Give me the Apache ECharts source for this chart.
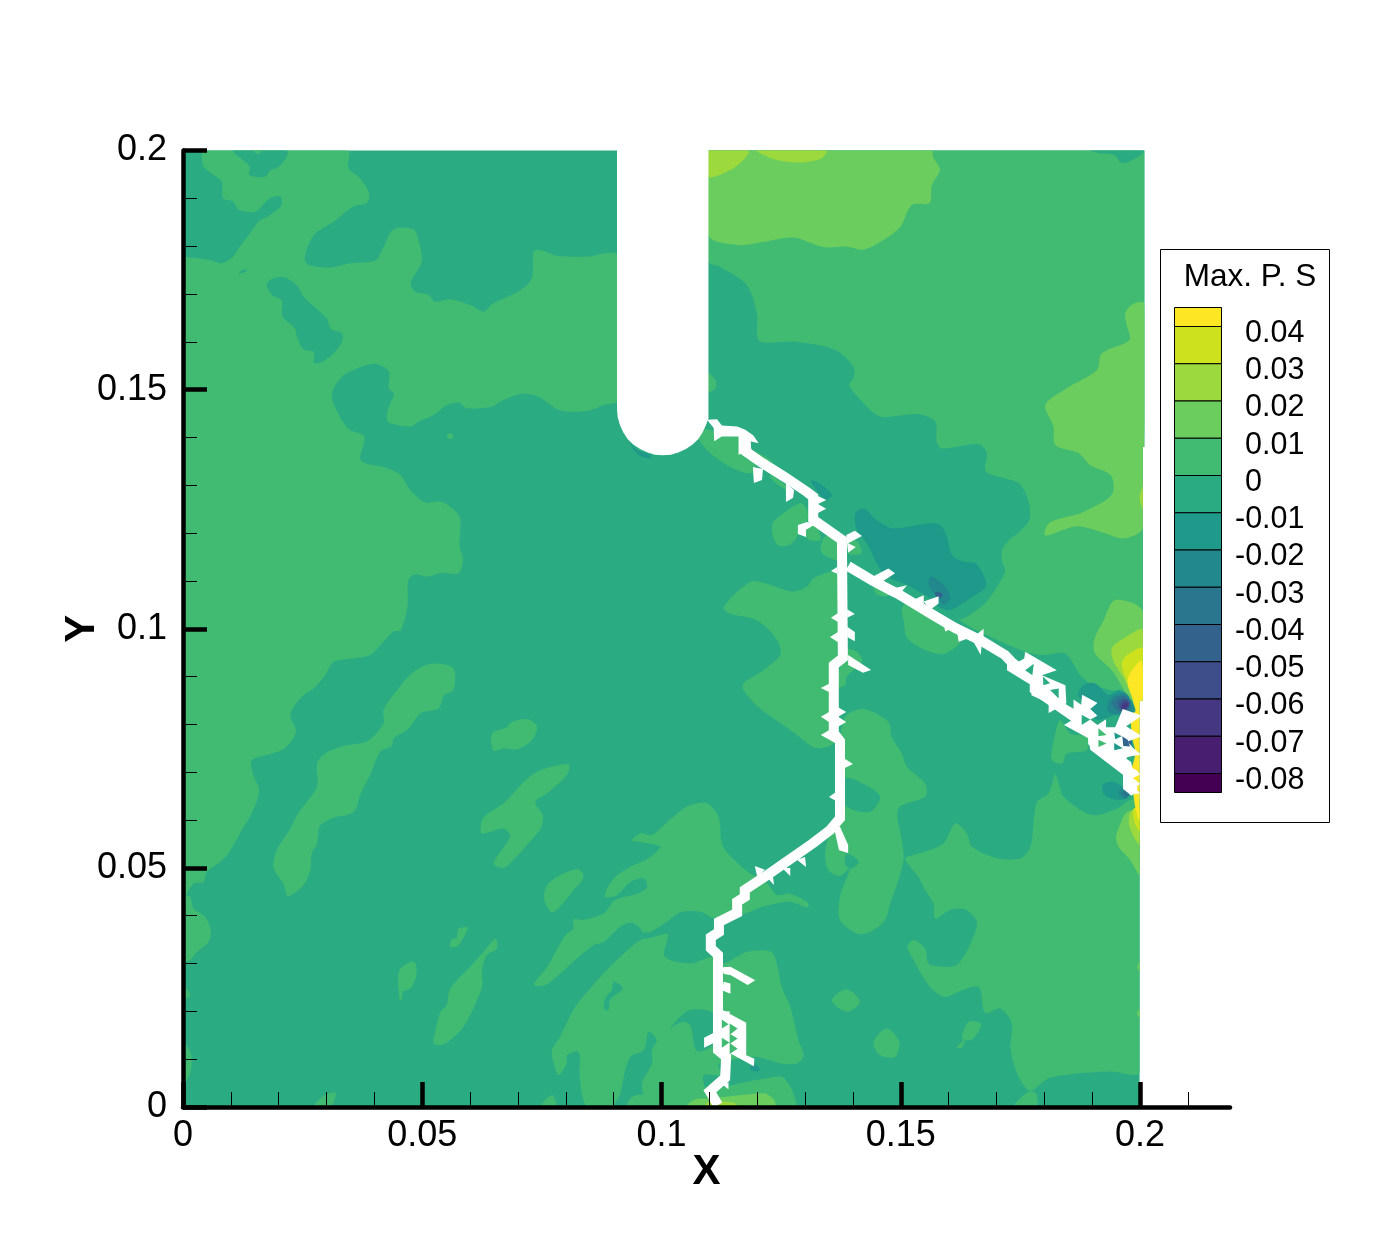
<!DOCTYPE html>
<html>
<head>
<meta charset="utf-8">
<title>Max. P. S</title>
<style>html,body{margin:0;padding:0;background:#fff}#chart{width:1400px;height:1245px}</style>
<script src="https://cdn.jsdelivr.net/npm/echarts@6/dist/echarts.min.js"></script>
</head>
<body>
<div id="chart"></div>
<script>
// tick values
var xMajorTicks = [0, 0.05, 0.1, 0.15, 0.2];
var xMinorTicks = [0.01, 0.02, 0.03, 0.04, 0.06, 0.07, 0.08, 0.09, 0.11, 0.12, 0.13, 0.14, 0.16, 0.17, 0.18, 0.19, 0.21];
var yMajorTicks = [0, 0.05, 0.1, 0.15, 0.2];
var yMinorTicks = [0.01, 0.02, 0.03, 0.04, 0.06, 0.07, 0.08, 0.09, 0.11, 0.12, 0.13, 0.14, 0.16, 0.17, 0.18, 0.19];

// contour legend, top band first
var legendLevels = ['0.04', '0.03', '0.02', '0.01', '0', '-0.01', '-0.02', '-0.03', '-0.04', '-0.05', '-0.06', '-0.07', '-0.08'];
var bandColors = ['#fde725', '#cde11d', '#9bd93c', '#6bcd5d', '#41bb72', '#2aab82', '#1f9a8a', '#23888e', '#2a768e', '#33638d', '#3d4e8a', '#453781', '#481f70', '#440154'];

// contour outlines: flat x,y lists, in thousandths of X and Y
var UNIT = 0.001;

var plate = [0,0, 199.9,0, 199.9,85, 200.6,85, 200.6,138, 200.9,138, 200.9,200, 0,200];

// band 0 .. 0.01
var westSide = [0,200, 34.4,200, 34.6,196.3, 37,194.2, 38.9,191, 38.4,189, 35.6,188.3, 31.5,185.1, 27.3,182.3, 25.4,177.5, 26.2,176.1, 30.8,175.5, 35,176.4, 40.2,177, 41.6,179.2, 44,183.5, 48.2,183.5, 49.2,181.3, 49.9,176.8, 47.6,172.4, 48.5,170.5, 51.3,169.8, 52.7,168.4, 55.8,168.9, 60,167.7, 62.8,166.3, 64.6,167.9, 70.5,170.8, 72.9,173.3, 73.3,178.9, 75,179.1, 78.1,178, 84.4,177.8, 90.8,178, 90.8,147.8, 87.9,146.8, 85.1,145.7, 80.2,145.4, 77.8,146.1, 74.3,148.5, 70.5,149.1, 66.3,147.5, 64.6,146.4, 59.3,146.1, 57.6,147.3, 54.8,146.6, 52.4,144.7, 49.2,143.3, 47.5,142.3, 43,143.1, 42.6,144.7, 43.3,147.1, 44.1,149.1, 43,150.3, 43,153.8, 40.2,155.4, 37,154.7, 33.2,152.7, 31.1,148.9, 32.8,144.3, 34.9,141.6, 37.9,140.2, 37,135.6, 38.1,134.6, 41.9,133.8, 45.4,132.2, 47.5,129, 50.6,126.4, 53.8,126.6, 56.2,125.2, 57.9,123.1, 57.8,117.2, 58.5,114.7, 57.6,111.6, 54.1,111.7, 51,110.9, 48.5,111.4, 47.1,110.2, 46.9,104.6, 45.5,99.7, 44,99.4, 41.9,97.3, 39.1,94.5, 35.6,93.8, 31.5,93.1, 29.7,90.3, 27.3,87.5, 24.8,85.8, 22.4,82, 23.6,78.5, 21.3,75, 18.2,73.8, 14.4,72.5, 14.7,69.4, 15.9,66.3, 14.7,62.1, 12.3,57.9, 9.5,53, 7.8,51.3, 5,49.2, 4.3,47.1, 2.2,46.7, 0.4,43.9, 0,43.5];
var westHoleA = [0,200, 3.6,200, 4.3,196.6, 6.4,194.9, 8.1,193.5, 8.4,190, 10.5,189.3, 11.6,187.6, 15.1,187.2, 18.2,190, 20.3,190.4, 20.6,188.6, 18.2,186.5, 15.8,185.1, 14,182.7, 11.6,179.5, 10.5,177.8, 8.1,176.4, 5.7,177.1, 0.4,177.8, 0,177.8];
var westHoleB = [10.5,200, 14,196.6, 13.8,194.9, 17.2,194.5, 18.2,195.8, 20,196.6, 21.7,198.7, 21.7,200];
var westHoleC = [17.5,172.1, 19.2,173.4, 21.7,173.3, 24.1,171.5, 25.2,169.4, 30,164.9, 30.9,162.7, 33.2,161.8, 33.2,160, 31.5,157.6, 28.7,155.6, 27.4,155.6, 27.3,157.9, 25.2,158.4, 23.8,161.1, 23.4,162.8, 20.8,165.3, 20.6,168.7, 18.6,169.8];
var westHoleD = [11.6,174.5, 13.3,175.2, 13.2,174.7, 11.9,174.3];
var westDent = [14.6,200, 15.6,199.3, 16.7,200];
var dotMid = [55.3,140.7, 56.3,140.7, 56.3,139.8, 55.3,139.8];
var lobeA = [0,44.3, 0.4,44.3, 1.5,44, 2.2,41.5, 4.6,39.8, 5.8,37, 5.3,34.5, 2.9,32.4, 1.5,30.7, 0.4,30.4, 0,30.4];
var lobeB = [0,25.2, 0.4,25.2, 1.5,23.4, 0.8,22.7, 0,22.7];
var lobeC = [0,13.6, 0.4,13.6, 1.8,10.5, 1.5,7, 0.4,4.9, 0,4.9];
var isle1 = [18.9,50.2, 19.6,53.7, 22.4,58.2, 24.1,61.4, 28,67, 28,71.8, 29.7,73.9, 33.5,75.5, 38.4,76.4, 41.9,80.2, 41.9,83, 45,87.5, 48.2,91, 52,92.7, 56.5,91.7, 56.5,87.2, 54.6,86.1, 53.4,83.3, 49.6,82.3, 47.1,79.1, 44,77.1, 43.6,75.5, 41.2,74.3, 39.1,69.4, 37,65.2, 36,62.1, 34.2,61, 32.1,60.7, 30,59.8, 28.5,58.6, 28,55.1, 26.9,53, 26.6,49.5, 25.2,46.4, 22,44.1, 21,46.7, 20,48.1];
var isle2 = [64.6,78.1, 67.7,79.4, 68.7,80.5, 72.2,81.1, 74,79.5, 72.9,76.7, 69.8,74.8, 67,75, 64.9,74.5];
var isle3 = [62.3,59.3, 63.2,61, 67,63.5, 73.3,69.7, 80.6,71.7, 80.2,69.4, 76.1,65.6, 73.6,63.8, 75.2,61, 74.7,58.2, 71.2,54, 69.4,52, 67,50, 64.9,50.9, 68.4,56.6, 67,58.2, 62.5,57.2];
var isle4 = [75.5,43.3, 76.1,46.4, 79.5,48.8, 82.7,49.7, 83.7,48, 81.6,45.3, 78.8,41.9, 77.1,40.7];
var isle5 = [57.6,37.3, 59.5,37.5, 57.9,34.2, 57.2,33.5, 55.8,33.6, 56.2,35, 57.2,35.4];
var isle6 = [65.3,35.2, 65.6,33.1, 63.5,31.8, 62.5,28.6, 62.5,25.1, 58.6,16.8, 54.5,13.1, 52.4,13.3, 52.7,15.7, 53.8,19.9, 55.1,21.3, 55.7,24.4, 57.6,26.9, 60,29.3, 62.5,32.1];
var isle7 = [45.2,28.5, 47.8,30.4, 48.7,29.7, 48.7,27.2, 47.5,24.8, 45.9,24.1, 45.7,22.3, 45.2,22.7];
var isle8 = [27.3,0, 29.7,2.5, 31.9,3, 30.8,0];
var isle9 = [74.7,0, 77.1,2.5, 78,0];
var band = [73.3,25.5, 76.1,29.3, 79.9,35.9, 81.6,37.3, 81.6,39.2, 83.7,39.1, 87.9,40.5, 90.3,43.3, 94.9,44.6, 97,46, 96.3,47.8, 93.5,47.1, 90.7,44.3, 88.3,43.9, 88.3,45, 90.3,48.1, 93.5,50.2, 97.7,52.3, 99.7,54.4, 97.7,55, 94.9,55.5, 93.8,55.8, 95.6,57.2, 97.7,56.8, 99.7,58.2, 102.5,60.7, 105.3,62.8, 109.4,63.5, 111.9,60.7, 112.9,54.4, 118.5,48.8, 121.3,47.8, 122.7,46, 124.1,44.3, 126.9,44.6, 130.7,42.6, 130.4,41.7, 126.9,42.9, 121.3,41.9, 116.4,40.1, 114.7,40.5, 111.2,39.4, 108.1,40.8, 104.2,40.8, 101.1,38.7, 97.6,36.6, 95.9,36.6, 95.6,37.3, 93.8,38.5, 91.4,37.7, 87.9,34.5, 85.8,33.8, 81.6,30.4, 78.5,27.6, 75.7,25.5];
var lower = [95.6,34.9, 97.7,35.4, 101.1,36.3, 101.4,35.9, 100.7,31.4, 106,30, 110.8,31.4, 112.9,30, 117.8,32.4, 123,32.4, 124.4,28.6, 125.1,25.1, 126.9,21, 128.6,14, 129.7,10.8, 128.3,9.1, 125.1,9.1, 121.6,10.1, 119.2,10.5, 112,9, 112.3,6.7, 108.8,6.7, 109.5,3.5, 112,4, 114,4.4, 117.9,5.3, 122,6, 125.2,6.3, 127.3,3.5, 128.3,0.4, 128.3,0, 98,0, 95.9,4.6, 98,9.1, 98,11.9, 99,14, 97.3,15.7, 96.3,11.9, 93.5,10.5, 92.1,6.3, 91.4,2.8, 90,0.4, 89.5,0, 84.4,0, 82.9,6.3, 82.7,11.5, 80.2,10.8, 80.2,9.1, 78.5,6.7, 77.5,9.1, 77.1,11.9, 78.8,14.7, 82,21, 85.1,24.8, 87.9,27.9, 91.4,31.4];
var lowerHoleA = [90,26.2, 91.9,24.8, 89.3,22.5, 88.9,20.2, 88,20.6, 88.2,22.7, 89.6,24.4];
var lowerHoleB = [101.8,16.4, 105.7,20.2, 110.9,19.5, 110.9,13.3, 107.4,11.7, 106,17.1, 104.3,17.8];
var footBump = [92.8,0, 93.8,2.1, 96.3,2.5, 97,0];
var southEast = [150.9,52, 152.7,52.7, 155.1,53.4, 158.9,55.1, 161.4,59.3, 163.8,57.2, 164.9,54.4, 170.1,52, 175,52, 177.1,54.4, 177.8,60, 178.5,63.8, 180.9,65.6, 182.3,69.7, 183,67.6, 184,64.9, 188.2,61.7, 191,61, 195.2,62.4, 198,64.2, 200,64, 200,7.4, 193.8,7.4, 186.8,7, 180.9,6, 177.1,3.4, 175,5.6, 173.6,9.1, 172.9,12.6, 173.2,17.5, 170.8,20.6, 168,19.6, 167.3,20.2, 166.3,25.1, 162.8,24.4, 159.3,23, 156.8,24.4, 154.8,26.9, 152.7,30.7, 151.4,33.5, 152.7,34.9, 155.1,33.1, 155.8,30, 158.9,29.3, 161.7,29.7, 163.5,32.1, 164.9,34.9, 165.9,38.7, 163.5,41.3, 160.3,41.2, 157.2,39.4, 156.8,42.6, 155.1,45.3, 153.7,48.1, 152,50.2];
var seSliver = [173.6,0, 176.7,3.2, 178.3,2.8, 178.3,0];
var spotA = [135.6,22.3, 138.7,24.6, 141.5,22, 138.7,19.9];
var spotB = [144.3,13.6, 147.1,16.4, 149.7,13.6, 148.8,10.5, 145.7,10.8];
var spotC = [162.8,14.3, 164.2,17.8, 166.8,17.3, 164.9,14.1];
var spotD = [161.7,12.4, 163.5,14.3, 162.8,12.4];
var midIsle = [138.4,81.6, 137.3,76, 137.3,60, 135.2,57.2, 134.2,53, 134.9,49.5, 137.3,48.3, 139.4,49.9, 137.3,44, 137.3,39.1, 140.8,36.3, 143.6,36.6, 146.7,39.1, 147.8,42.6, 149.5,47.4, 150.6,52, 150.2,55.8, 149.5,62.4, 155.1,64.9, 155.1,67.6, 151.3,71.1, 150.2,73.9, 148.1,77.4, 147.4,80.5, 142.2,83.2];
var midHoleA = [138.4,68.7, 142.2,67.6, 145.7,64.9, 143.6,61.7, 138.4,63.1];
var midHoleB = [138.7,53, 141.2,51.3, 139.8,49.9, 138.4,50.6];
var crackWest = [135.6,111.9, 131.8,110.5, 130.4,108.8, 127.2,107.8, 121.6,109.5, 118.5,109.8, 113,104.6, 114.3,103.2, 119.9,101.8, 123.7,98.3, 124.9,94.8, 121.3,91.3, 117.1,88.6, 117.1,87.2, 120.6,83.3, 125.5,79.8, 128.3,77.8, 132.4,75, 136.3,76.4, 137,85, 137,111];
var crackEast = [138.7,95.5, 140.8,95.2, 141.9,93.1, 138.7,90, 138.4,88.2, 136.6,87.9];
var kinkA = [107.9,141.6, 110.2,141.6, 111.2,140.9, 112.6,140.2, 116.5,140.2, 116.5,136.7, 119.6,134.3, 119.2,132.6, 116.5,132.9, 113,134.6, 109.8,137.1, 107.7,139.9];
var kinkB = [122.7,132.2, 126.2,129.8, 126.2,129.1, 124.8,129.8, 123.1,131.2];
var kinkC = [118.9,137.4, 123.4,135, 121,135.7];
var kinkD = [123.1,121.8, 124.1,123.1, 129,126.3, 130.4,124.9, 130.4,122.5, 128.7,121.8, 128.7,120, 126.9,117.6, 124.5,117.4, 123.3,119.3];
var kinkE = [130.4,121, 132.1,121.8, 133.3,118.6, 131.1,118.5, 130.2,119.3];
var kinkF = [133.3,117.2, 134.2,119.3, 136.5,119, 136.7,114.4, 135.3,114.8, 133.5,115.8];
var kinkG = [139.1,118.3, 140.9,118.3, 141.8,115.8, 139.1,115.7];
var kinkH = [144.3,109.1, 145.7,109.8, 147.4,107, 145,107.1];
var northEast = [109.8,200, 200.9,200, 200.9,138, 200.6,132.5, 200.6,87.9, 200.6,85.8, 196.9,85.4, 195.2,86.8, 190.3,88.2, 187.5,90.3, 184.4,94.8, 179.8,94.5, 176,95.2, 167.3,99, 162.4,101.8, 163.8,102.5, 167.6,105.3, 170.1,108.8, 171.8,112, 171.1,114.4, 171.5,117.2, 176.7,122.4, 176.7,126.6, 174.6,130.4, 169,132.2, 167.6,133.2, 168,136.7, 166.3,138.6, 158.6,137.7, 157.5,139.1, 157.2,143.3, 153.4,144.9, 145.7,144.4, 141.9,147.5, 139.2,151, 140.1,152.4, 140.1,154.8, 136.3,158.3, 127.9,160, 120.9,159.9, 120,161.1, 119.9,166, 117.8,171.9, 112.2,175.7, 109.8,176.8];
var slotBump = [109.8,153.4, 111.3,151.9, 111.3,150.3, 109.8,149.6];
var cornerHole = [189.6,200, 200.9,200, 200,199, 197.3,197.5, 195.9,197.5, 194.8,199, 191.7,199.4];
var crackBlob = [150.2,104.2, 151.3,105.3, 156.8,101.8, 162.8,98, 159.3,94.8, 155.5,95.4, 151.4,98, 150.6,101.8];
var eastBlob = [183.3,80.9, 185.4,78.1, 188.9,77.4, 188.9,74.6, 184.7,73.9, 183.7,71.8, 181.6,72.5, 181.6,74.6, 182.3,78.1];

// band 0.01 .. 0.02
var topField = [109.8,200, 156.5,200, 156.7,198.7, 158.2,195.9, 156.5,192.8, 156,189, 152.3,188.6, 149.9,184, 146.4,181.3, 142.2,179.3, 138.7,179.9, 133.8,179.8, 127.6,181.8, 121.3,180.9, 116.4,180.2, 109.8,182.3];
var eastField = [198.7,168, 200.9,168, 200.9,138, 200.6,132.5, 200.6,121, 196.6,118.9, 191.7,120.3, 186.5,121.4, 180.2,119.5, 180.9,122, 184.7,123.4, 187.5,124.1, 194.1,128, 193.9,132.1, 189.6,134.2, 187.2,136.7, 182.3,138.4, 181.9,142.3, 180.2,146.8, 184.7,150.3, 191,154.1, 192,157.6, 197.8,160.4, 197.3,163.2, 196.9,166];
var tipField = [192.4,101.8, 194.8,106, 200.6,103.6, 200.6,85, 198,85, 197.3,86.1, 194.1,91.3, 190.6,94.8, 190.4,97.6];
var tipLowerG = [197.3,61.7, 196.2,60, 195,56.5, 195.5,54.4, 198,51.6, 200,48.5, 200,62.1];
var footField = [105.3,0, 107.1,1.6, 110.2,1.8, 115.8,2.4, 119.9,2.8, 121.7,2.8, 123.6,1.4, 123.6,0];
var edgeNickA = [200,30.4, 199.4,29.3, 200,28.3];
var edgeNickB = [200,20.6, 199.4,19.6, 200,18.5];

// band 0.02 .. 0.03
var topPatchA = [109.8,200, 118.2,200, 117.1,198, 114.7,196.1, 109.8,194.5];
var topPatchB = [119.9,200, 134.4,200, 133.5,198.4, 129,197.5, 124.1,198, 121.3,199.1];
var tipUpperL = [200.6,99.7, 196.6,98, 194.1,95.9, 194.5,93.1, 196.6,89.6, 198.3,86.1, 200.6,84];
var tipLowerL = [198,61.7, 197.8,58.6, 200,54.8, 200,62.1];
var edgeNickC = [200.6,129.7, 199.9,127.3, 200.6,125.2];
var footPeak = [109.1,0, 109.8,1, 115.1,0.9, 115.8,0];

// band 0.03 .. 0.04 and top band
var tipUpperY = [200.6,95.9, 197.3,94.5, 196.2,92.7, 196.9,90, 198.7,86.1, 199,85.4, 200.6,84.5];
var tipLowerY = [198.7,62.4, 198.7,60, 200,57.5, 200,62.4];
var tipCore = [200.4,93.2, 197.9,90.7, 197.4,88.6, 198.6,84.5, 198.1,81.7, 198.3,77.5, 199,74, 198.1,69.8, 198.6,65.3, 199.3,61.4, 200,59.9, 200,69.8, 200.4,76.8];

// negative bands along the crack
var notchSliver = [93.5,138.8, 94.9,137.4, 97.7,136.3, 97.7,135.6, 95.6,136.1, 94.2,137.4];
var trough = [131.2,131, 133.5,130.1, 135.6,128, 134.6,127, 132.8,128.4];
var sinkA = [140.5,124.1, 142.2,125.2, 145,122.7, 148.5,121, 155.5,122, 158.2,121.7, 159.6,119.3, 160.7,115.4, 163.1,114, 165.6,113.7, 167.6,110.5, 167.6,108.5, 164.5,106.4, 160.3,103.9, 157.9,104.6, 156.8,106, 152,108.8, 146.4,111.6, 142.9,117.9, 140.8,120.7];
var sinkB = [155.8,110.2, 156.5,110.9, 159.3,108.8, 160.3,106.4, 158.9,105, 157.9,106.4, 156.1,108.4];
var sinkC = [157.2,107.6, 158.6,107.4, 158.6,106.6, 157.5,106.6];
var loopSpot = [118.4,8, 119.3,9, 120.6,8, 119.9,7.4];
var hotA1 = [187.1,86.2, 188.2,88.3, 190.6,88.6, 193.4,86.2, 195.5,87.2, 197.4,86.2, 199,82.7, 195.1,82, 190.9,81, 188.9,83.8];
var hotA2 = [193.4,84.8, 194.8,86.2, 196.9,86.5, 198.1,84.8, 198.6,82.7, 195.8,82, 193.4,82.7];
var hotA3 = [194.1,84.5, 195.5,85.9, 197.1,85.9, 198.1,84.5, 197.6,82.7, 195.5,82.7];
var hotA4 = [195.3,84.5, 196.5,85.5, 197.6,84.8, 197.6,83.4, 196.2,82.7];
var hotA5 = [195.7,83.9, 196.9,85.2, 197.8,84.5, 197.1,83.1, 196.2,83.1];
var hotA6 = [196.2,83.8, 197.1,84.6, 197.5,84.1, 196.7,83.1];
var hotB1 = [194.6,76.1, 195.8,78.2, 197.9,76.8, 198.6,75, 197.2,75, 196.2,74.7];
var hotB2 = [196.4,77.1, 197.2,77.8, 198.3,76.1, 197.6,75.3, 196.5,75.7];
var hotC1 = [192.3,67.4, 194.1,68, 195.8,67.4, 197.9,65.3, 196.2,64.2, 193.7,64.6, 192.3,65.6];
var hotC2 = [195.5,65.6, 196.2,66.7, 197.9,65.5, 196.9,64.4];
var hotC3 = [196.2,65.5, 196.9,66.3, 197.8,65.5, 197.1,64.8];

// blanked notch and crack
var notch = [90.7,200.2, 90.7,145.9, 90.85,144.2, 91.3,142.6, 92,141.1, 92.9,139.7, 94.1,138.5, 95.5,137.6, 97,136.9, 98.6,136.4, 100.3,136.3, 102,136.4, 103.6,136.9, 105.1,137.6, 106.5,138.5, 107.7,139.7, 108.6,141.1, 109.3,142.6, 109.8,144, 109.8,200.2];
var crackEntryBlock = [109.5,143.7, 111.6,143.8, 112.6,142.5, 115.8,142.3, 117.5,141.6, 119.2,140.4, 120.3,138.8, 118.5,139.2, 118.8,137.4, 116.1,136.4, 116.1,140.2, 112.6,140.2, 111,139.2, 110.9,142];
var crackMain = [117.5,140.9, 117.7,137, 121,134.7, 125.8,131.7, 130.4,128.6, 131.7,127.6, 131.7,122.8, 137.7,118.6, 137.9,93.9, 136,92.4, 136,78.2, 137.3,76.5, 137.3,60.4, 135.2,57.9, 131.7,55.2, 122.7,48.9, 117.4,45.4, 117.4,43.9, 115.8,42.9, 115.8,40.6, 112,38.7, 112,36.6, 110.3,35.5, 110.3,33.2, 111.8,31.8, 111.8,11.9, 113.5,10.5, 113.3,6.1, 110.1,3.3, 111.8,0.4];
var crackLoopLine = [113.4,20, 113.4,10];
var crackEastLine = [139,113.1, 144.2,110, 147.8,108.1, 149.4,107.3, 156.7,102.9, 161.3,100.2, 167,97.4, 171.8,94.5, 173.1,93.1, 178,89.1, 178,87.3, 184.6,82.7, 190.2,78.8, 190.2,76.4, 197.2,71.5, 197.5,70.1, 197.5,67, 198.9,65.9];
var crackEastLink = [182.2,84.5, 186.4,82];
var crackBlockA = [172.2,93.1, 174.6,93.1, 175.8,93.8, 176,95.2, 182.6,91.3, 179.5,90.3, 184.4,88.2, 184.6,84.4, 180.9,82.4, 180.9,84.4, 177.3,86.1, 177.3,88.2, 172.2,91.3];
var crackBlockB = [184.1,79.9, 186.1,81.1, 186.1,85.2, 187.7,84.1, 187.9,86.2, 191.1,84.5, 189.6,83.2, 191.1,81.8, 189.6,81, 191.1,79.9, 192.9,81.1, 192.9,79.4, 194.8,79.4, 196.4,83.2, 200.4,81.8, 197.1,79.6, 200.4,77.5, 197.4,76.4, 198.6,75, 200.2,73.7, 197.4,73.2, 196.4,71.9, 199.3,70.4, 200,69.5, 198.5,68.8, 200,67.6, 199,66.7, 200,65.6, 197.9,65.3, 196.9,66.7, 196.9,69.1, 189.6,74.7, 189.2,77.1];
var crackLoop = [112.6,20.4, 117.7,17.6, 117.7,10.8, 119.4,10.1, 119.3,8.5, 114.4,11.2, 115.9,12.2, 114.4,13.3, 115.9,14.3, 114.4,15.2, 115.9,16.4, 112.6,18.5];
var barbs = [
    [119.1,133.8, 121.2,133.4, 121,131.1, 119.3,130.5],
    [126,130.5, 127.7,129, 127.5,127.4, 126,126.5],
    [131,128, 132.1,128, 134.4,126.9, 132.7,126.1, 134.4,125.1, 132.7,124.2, 131,124.2],
    [128.5,121.7, 130.4,122.3, 131.9,121.7, 130.2,120.7, 130.2,119.2, 128.5,119.8],
    [138.6,119.6, 140.4,120.5, 141.9,119.4, 139,117.9, 140.6,117.1, 139,115.9],
    [135.4,112.1, 136.7,112.9, 136.7,111.5],
    [138.8,104.1, 140.4,103.1, 138.8,102.3],
    [136.9,103.3, 135.4,102.3, 136.9,101.4],
    [138.8,100.4, 140.4,99.3, 140.4,97.4, 138.8,98.3],
    [136.9,99.3, 135.2,98.3, 136.9,97.2],
    [139,94.5, 143.8,91.4, 142.1,90.8, 139,92.4],
    [135,88.5, 133.3,87.6, 135,86.8],
    [136.9,83.6, 138.6,82.6, 136.9,81.6],
    [135,82.6, 133.3,81.6, 135,80.5],
    [136.9,81.6, 138.6,80.5, 136.9,79.5],
    [135,78.8, 133.3,77.8, 136.3,76.1],
    [138.3,72.8, 140,71.7, 138.3,70.9],
    [136.5,65.9, 135,64.8, 136.5,64],
    [136,58.6, 137.3,58.6, 139,54.8, 139,53.1, 137.1,53.7],
    [121.6,49.6, 119.5,50.4, 120,48.1],
    [121.6,48.5, 123.5,46.4, 123.3,48.1],
    [125.2,50, 126.9,48.3, 126.9,50],
    [128.3,51.7, 130.2,50.2, 130,52.3],
    [144.3,111, 147.4,112.6, 148.8,111.6, 146,109.8],
    [151.3,109.1, 150.2,107.8, 148.8,108.5],
    [153,106.2, 154.8,107, 154.8,105],
    [154.8,105.7, 157.9,106.8, 157.9,105.3, 156.1,103.9],
    [158.9,101.1, 159.3,99.4, 160.7,100.1],
    [161.7,99.7, 162.1,97.3, 164.9,98.3, 163.5,100],
    [165.2,97.3, 166.7,94.5, 166.9,96.6],
    [165.2,98.3, 167.3,100, 167.3,98.3],
    [108.9,14.5, 110.9,15.5, 112.6,16.4, 112.6,14.5, 110.9,13.4, 108.9,12.4],
    [112.6,29.2, 114.4,29.3, 119.6,26.5, 118,25.5, 114.4,27.6, 113,27.8],
    [113,26.2, 114.4,25.8, 114.4,23.7, 112.6,24.4],
    [114,5.2, 114,3.7, 112.8,4.6]
];
// field showing through the gaps of the crack
var gapsTeal = [
    [176,91.3, 177.8,92.7, 177.5,90.3],
    [181.2,87.2, 183,87.5, 183,85.4],
    [179.7,90, 181.2,88.6, 179.8,88.2],
    [187.8,82, 189.6,81, 187.8,79.9]
];
var gapsLight = [
    [191.3,79.2, 193,77.8, 191.3,77.5],
    [191.3,76.8, 193,76, 191.3,75.3],
    [112.6,18.3, 114,17.3, 112.6,16.4],
    [112.6,14.5, 114.2,13.5, 112.6,12.4]
];
var gapsDeep = [
    [194.6,78.3, 196.2,77.5, 194.8,76.9],
    [194.6,76.1, 196.4,75, 194.6,74.6]
];
var gapsDark = [
    [196.3,77.5, 197.4,76.8, 197.9,75.4, 196.5,75.5]
];

var C = {
    yellow: bandColors[0], lime: bandColors[1], leaf: bandColors[2], grass: bandColors[3],
    light: bandColors[4], teal: bandColors[5], deep: bandColors[6], deeper: bandColors[7],
    slate: bandColors[8], blue: bandColors[9], indigo: bandColors[10], violet: bandColors[11]
};

// painted in this order, later shapes cover earlier ones
var layers = [];
function add(color, list, smooth) {
    for (var i = 0; i < list.length; i++) layers.push({ color: color, pts: list[i], smooth: smooth ? 0.3 : 0 });
}
add(C.teal, [plate]);
add(C.light, [westSide], true);
add(C.teal, [westHoleA, westHoleB, westHoleC, westHoleD], true);
add(C.light, [westDent, dotMid, lobeA, lobeB, lobeC, isle1, isle2, isle3, isle4, isle5, isle6, isle7, isle8, isle9, band, lower], true);
add(C.teal, [lowerHoleA, lowerHoleB], true);
add(C.light, [footBump, southEast, seSliver, spotA, spotB, spotC, spotD, midIsle], true);
add(C.teal, [midHoleA, midHoleB], true);
add(C.light, [crackWest, crackEast, kinkA, kinkB, kinkC, kinkD, kinkE, kinkF, kinkG, kinkH, northEast, slotBump], true);
add(C.teal, [cornerHole], true);
add(C.light, [crackBlob, eastBlob], true);
add(C.grass, [topField, eastField, tipField, tipLowerG, footField, edgeNickA, edgeNickB], true);
add(C.leaf, [topPatchA, topPatchB, tipUpperL, tipLowerL, edgeNickC, footPeak], true);
add(C.lime, [tipUpperY, tipLowerY], true);
add(C.yellow, [tipCore], true);
add(C.deep, [notchSliver, trough, sinkA, loopSpot, hotA1, hotB1, hotC1], true);
add(C.deeper, [sinkB, hotA2, hotC2], true);
add(C.slate, [hotA3, hotC3], true);
add(C.blue, [sinkC, hotA4, hotB2], true);
add(C.indigo, [hotA5], true);
add(C.violet, [hotA6], true);
add('#ffffff', [notch]);
add('#ffffff', [crackEntryBlock, crackBlockA, crackBlockB, crackLoop]);
add('#ffffff', barbs);
var thickLines = [
    { pts: crackMain, width: 10 },
    { pts: crackLoopLine, width: 8 },
    { pts: crackEastLine, width: 10 },
    { pts: crackEastLink, width: 9 }
];
for (var n = 0; n < thickLines.length; n++) {
    layers.push({ color: '#ffffff', pts: thickLines[n].pts, width: thickLines[n].width });
}
add(C.teal, gapsTeal);
add(C.light, gapsLight);
add(C.deep, gapsDeep);
add(C.blue, gapsDark);

var labelFont = '"Liberation Sans", Arial, sans-serif';

function toPixels(api, pts) {
    var points = [];
    for (var i = 0; i < pts.length; i += 2) {
        points.push(api.coord([pts[i] * UNIT, pts[i + 1] * UNIT]));
    }
    return points;
}

function renderShape(params, api) {
    var s = layers[params.dataIndex];
    var points = toPixels(api, s.pts);
    if (s.width) {
        return {
            type: 'polyline',
            shape: { points: points },
            style: { fill: null, stroke: s.color, lineWidth: s.width, lineJoin: 'miter' }
        };
    }
    var el = {
        type: 'polygon',
        shape: { points: points, smooth: s.smooth },
        style: { fill: s.color, stroke: null }
    };
    // smoothed contours bulge a little, keep them on the plate
    if (s.smooth) {
        el.clipPath = { type: 'polygon', shape: { points: toPixels(api, plate) } };
    }
    return el;
}

// legend drawn as plain graphics
var legendItems = [
    { type: 'rect', shape: { x: 1160.5, y: 249.5, width: 169, height: 573 }, style: { fill: '#fff', stroke: '#000', lineWidth: 1 } },
    { type: 'text', style: { x: 1250, y: 277.5, text: 'Max. P. S', font: '31.5px ' + labelFont, fill: '#000', textAlign: 'center', textVerticalAlign: 'middle' } }
];
var bandTop = 307.5;
for (var b = 0; b < bandColors.length; b++) {
    var h = (b === 0 || b === bandColors.length - 1) ? 19 : 37.25;
    legendItems.push({ type: 'rect', shape: { x: 1174.5, y: bandTop, width: 47, height: h }, style: { fill: bandColors[b], stroke: '#000', lineWidth: 1 } });
    bandTop += h;
}
for (var k = 0; k < legendLevels.length; k++) {
    legendItems.push({
        type: 'text',
        style: {
            x: legendLevels[k].charAt(0) === '-' ? 1235 : 1245,
            y: 333.5 + k * 37.25,
            text: legendLevels[k],
            font: '30.5px ' + labelFont,
            fill: '#000',
            textAlign: 'left',
            textVerticalAlign: 'middle'
        }
    });
}

var myChart = echarts.init(document.getElementById('chart'), null, { renderer: 'canvas' });

var option = {
    animation: false,
    backgroundColor: '#fff',
    grid: { left: 183, top: 150.5, width: 1047, height: 956.5 },
    xAxis: [{
        type: 'value',
        position: 'bottom',
        min: 0,
        max: 0.2188,
        z: 10,
        splitLine: { show: false },
        name: 'X',
        nameLocation: 'middle',
        nameGap: 44,
        nameMoveOverlap: false,
        nameTextStyle: { fontFamily: labelFont, fontWeight: 'bold', fontSize: 42, color: '#000' },
        axisLine: { lineStyle: { color: '#000', width: 4.5 } },
        axisTick: { inside: true, length: 25, lineStyle: { color: '#000', width: 4.5 }, customValues: xMajorTicks },
        axisLabel: { margin: 11, fontFamily: labelFont, fontSize: 36, color: '#000', customValues: xMajorTicks, hideOverlap: false, showMinLabel: true }
    }, {
        type: 'value',
        position: 'bottom',
        min: 0,
        max: 0.2188,
        z: 10,
        splitLine: { show: false },
        axisLine: { show: false },
        axisTick: { inside: true, length: 15, lineStyle: { color: '#000', width: 1 }, customValues: xMinorTicks },
        axisLabel: { show: false }
    }],
    yAxis: [{
        type: 'value',
        position: 'left',
        min: 0,
        max: 0.2,
        z: 10,
        splitLine: { show: false },
        name: 'Y',
        nameLocation: 'middle',
        nameGap: 80,
        nameMoveOverlap: false,
        nameTextStyle: { fontFamily: labelFont, fontWeight: 'bold', fontSize: 42, color: '#000' },
        axisLine: { lineStyle: { color: '#000', width: 4.5 } },
        axisTick: { inside: true, length: 24, lineStyle: { color: '#000', width: 4.5 }, customValues: yMajorTicks },
        axisLabel: { margin: 16, padding: [4, 0, 0, 0], fontFamily: labelFont, fontSize: 36, color: '#000', customValues: yMajorTicks, hideOverlap: false }
    }, {
        type: 'value',
        position: 'left',
        min: 0,
        max: 0.2,
        z: 10,
        splitLine: { show: false },
        axisLine: { show: false },
        axisTick: { inside: true, length: 14, lineStyle: { color: '#000', width: 1 }, customValues: yMinorTicks },
        axisLabel: { show: false }
    }],
    series: [{
        type: 'custom',
        coordinateSystem: 'cartesian2d',
        xAxisIndex: 0,
        yAxisIndex: 0,
        z: 1,
        silent: true,
        clip: false,
        renderItem: renderShape,
        encode: { x: -1, y: -1 },
        data: layers.map(function (s, i) { return [i]; })
    }],
    graphic: { elements: legendItems }
};

myChart.setOption(option);
window.addEventListener('resize', function () {
    myChart.resize();
});
</script>
</body>
</html>
